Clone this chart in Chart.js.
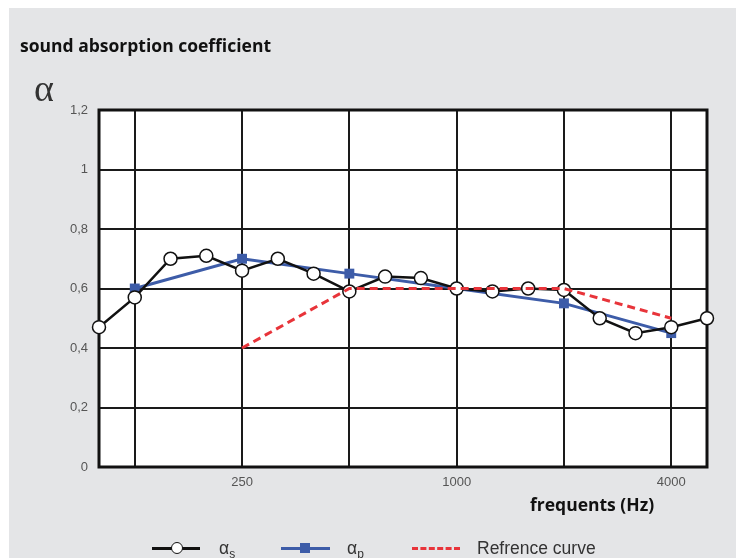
<!DOCTYPE html>
<html>
<head>
<meta charset="utf-8">
<script src="https://cdn.jsdelivr.net/npm/chart.js@4"></script>
<style>
    body { margin: 0; background: #fff; width: 736px; height: 558px; overflow: hidden; position: relative; font-family: 'Liberation Sans', Arial, sans-serif; }
    #panel { position: absolute; left: 9px; top: 8px; width: 727px; height: 550px; background: #e4e5e7; }
    #chart { position: absolute; left: 0; top: 0; }
    .title { position: absolute; left: 20px; top: 33px; font: bold 17.5px 'Open Sans', sans-serif; color: #111; }
    .alpha { position: absolute; left: 34px; top: 66px; font: 38px 'Liberation Serif', serif; color: #333; }
    .xlabel { position: absolute; left: 530px; top: 492px; font: bold 17.5px 'Open Sans', sans-serif; color: #111; }
    .legend { position: absolute; top: 538px; left: 0; font: 17.5px 'Liberation Sans', Arial, sans-serif; color: #333; }
    .item { position: absolute; top: 0; white-space: nowrap; }
    .item sub { font-size: 12px; vertical-align: -4px; }
    .sym { position: absolute; }
</style>
</head>
<body>
<div id="panel"></div>
<canvas id="chart" width="736" height="558"></canvas>
<div class="title">sound absorption coefficient</div>
<div class="alpha">α</div>
<div class="xlabel">frequents (Hz)</div>
<div class="legend">
    <div class="sym" style="left:152px; top:9px; width:48px; height:3px; background:#111;"></div>
    <div class="sym" style="left:171px; top:4px; width:10px; height:10px; border:1.5px solid #111; border-radius:50%; background:#fff;"></div>
    <div class="item" style="left:219px;">α<sub>s</sub></div>
    <div class="sym" style="left:281px; top:9px; width:49px; height:3px; background:#3d5ca8;"></div>
    <div class="sym" style="left:300px; top:5px; width:10px; height:10px; background:#3d5ca8;"></div>
    <div class="item" style="left:347px;">α<sub>p</sub></div>
    <div class="sym" style="left:412px; top:9px; width:48px; height:0; border-top:3px dashed #e8343a;"></div>
    <div class="item" style="left:477px;">Refrence curve</div>
</div>
<script>
    // 1/3 octave bands
    const freqs = ['100', '125', '160', '200', '250', '315', '400', '500', '630', '800', '1000', '1250', '1600', '2000', '2500', '3150', '4000', '5000'];
    const gridFreqs = ['125', '250', '500', '1000', '2000', '4000'];
    const tickFreqs = ['250', '1000', '4000'];

    const alphaS = [0.47, 0.57, 0.70, 0.71, 0.66, 0.70, 0.65, 0.59, 0.64, 0.635, 0.60, 0.59, 0.60, 0.595, 0.50, 0.45, 0.47, 0.50];
    // octave bands only
    const alphaP = [null, 0.60, null, null, 0.70, null, null, 0.65, null, null, 0.60, null, null, 0.55, null, null, 0.45, null];
    const refCurve = [null, null, null, null, 0.40, null, null, 0.60, null, null, 0.60, null, null, 0.60, null, null, 0.50, null];

    const frame = {
        id: 'frame',
        beforeDatasetsDraw(chart) {
            const a = chart.chartArea;
            const ctx = chart.ctx;
            ctx.save();
            ctx.strokeStyle = '#111';
            ctx.lineWidth = 3;
            ctx.strokeRect(a.left, a.top, a.right - a.left, a.bottom - a.top);
            ctx.restore();
        }
    };

    const plotBg = {
        id: 'plotBg',
        beforeDraw(chart) {
            const a = chart.chartArea;
            chart.ctx.save();
            chart.ctx.fillStyle = '#fff';
            chart.ctx.fillRect(a.left, a.top, a.right - a.left, a.bottom - a.top);
            chart.ctx.restore();
        }
    };

    new Chart(document.getElementById('chart'), {
        type: 'line',
        data: {
            labels: freqs,
            datasets: [
                { label: 'Refrence curve', data: refCurve, order: 0, borderColor: '#e8343a', borderWidth: 3, borderDash: [8, 5], pointRadius: 0, spanGaps: true, fill: false },
                { label: 'as', data: alphaS, order: 1, borderColor: '#111', borderWidth: 2.5, pointRadius: 6.5, pointBackgroundColor: '#fff', pointBorderColor: '#111', pointBorderWidth: 1.5, spanGaps: true },
                { label: 'ap', data: alphaP, order: 2, borderColor: '#3d5ca8', borderWidth: 3, pointStyle: 'rect', pointRadius: 7, pointBackgroundColor: '#3d5ca8', pointBorderWidth: 0, spanGaps: true }
            ]
        },
        options: {
            responsive: false,
            animation: false,
            layout: { padding: { top: 110, right: 29, bottom: 61, left: 0 } },
            plugins: { legend: { display: false }, tooltip: { enabled: false } },
            scales: {
                x: {
                    offset: false,
                    afterFit: s => { s.height = 30; },
                    border: { display: false },
                    grid: {
                        offset: false,
                        drawTicks: false,
                        lineWidth: 2,
                        color: c => gridFreqs.includes(freqs[c.index]) ? '#1a1a1a' : 'rgba(0,0,0,0)'
                    },
                    ticks: {
                        autoSkip: false,
                        maxRotation: 0,
                        padding: 8,
                        color: '#555',
                        font: { family: 'Liberation Sans', size: 13 },
                        callback: (v, i) => tickFreqs.includes(freqs[i]) ? freqs[i] : ''
                    }
                },
                y: {
                    min: 0,
                    max: 1.2,
                    afterFit: s => { s.width = 99; },
                    border: { display: false },
                    grid: { drawTicks: false, lineWidth: 2, color: '#1a1a1a' },
                    ticks: {
                        stepSize: 0.2,
                        padding: 11,
                        color: '#555',
                        font: { family: 'Liberation Sans', size: 13 },
                        callback: v => String(Math.round(v * 10) / 10).replace('.', ',')
                    }
                }
            }
        },
        plugins: [plotBg, frame]
    });
</script>
</body>
</html>
